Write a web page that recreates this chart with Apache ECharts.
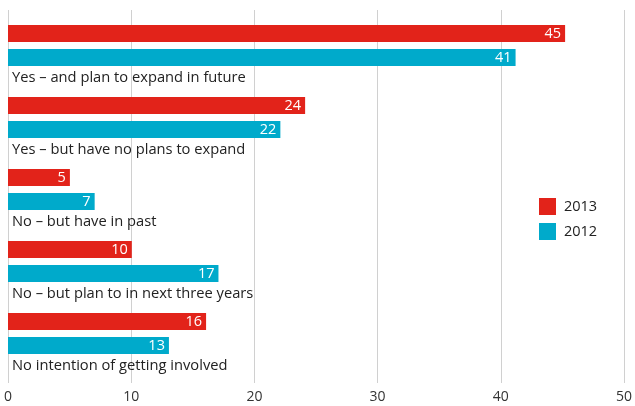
<!DOCTYPE html>
<html>
<head>
<meta charset="utf-8">
<script src="https://cdn.jsdelivr.net/npm/echarts@6/dist/echarts.min.js"></script>
<style>html,body{margin:0;padding:0;background:#fff}#c{width:635px;height:406px}</style>
</head>
<body>
<div id="c"></div>
<script>
var categories = ['Yes – and plan to expand in future', 'Yes – but have no plans to expand', 'No – but have in past', 'No – but plan to in next three years', 'No intention of getting involved'];
var values2013 = [45, 24, 5, 10, 16];
var values2012 = [41, 22, 7, 17, 13];
var xMin = 0, xMax = 50, xInterval = 10;

var FONT = 'Open Sans';
var chart = echarts.init(document.getElementById('c'), null, {renderer: 'canvas'});
chart.setOption({
  animation: false,
  textStyle: {fontFamily: FONT},
  color: ['#E2231A', '#00AACB'],
  legend: {
    orient: 'vertical', left: 534, top: 193, itemWidth: 17, itemHeight: 17, itemGap: 8,
    icon: 'rect', data: ['2013', '2012'],
    textStyle: {fontFamily: FONT, fontSize: 14.5, color: '#222', padding: [0, 0, 0, 3]}
  },
  grid: [
    {left: 8, right: 8, top: 9.5, height: 360},
    {left: 8, right: 8, top: 10, bottom: 23}
  ],
  xAxis: [
    {gridIndex: 0, type: 'value', min: xMin, max: xMax, interval: xInterval, show: false},
    {gridIndex: 1, type: 'value', min: xMin, max: xMax, interval: xInterval,
     axisLine: {show: false}, axisTick: {show: false},
     splitLine: {show: true, lineStyle: {color: '#d0d0d0', width: 1}},
     axisLabel: {margin: 7, fontFamily: FONT, fontSize: 14, color: '#333'}}
  ],
  yAxis: [
    {gridIndex: 0, type: 'category', inverse: true, data: categories,
     axisLine: {show: false}, axisTick: {show: false}, splitLine: {show: false},
     axisLabel: {inside: true, margin: 4, verticalAlign: 'top', padding: [25, 0, 0, 0],
                 fontFamily: FONT, fontSize: 14.7, color: '#222'}},
    {gridIndex: 1, type: 'value', show: false, min: 0, max: 1}
  ],
  series: [
    {name: '2013', type: 'bar', xAxisIndex: 0, yAxisIndex: 0, data: values2013, barWidth: 17, barGap: '41%',
     label: {show: true, position: 'insideRight', distance: 4, color: '#fff', fontFamily: FONT, fontSize: 14.5}},
    {name: '2012', type: 'bar', xAxisIndex: 0, yAxisIndex: 0, data: values2012, barWidth: 17, barGap: '41%',
     label: {show: true, position: 'insideRight', distance: 4, color: '#fff', fontFamily: FONT, fontSize: 14.5}}
  ]
});
</script>
</body>
</html>
